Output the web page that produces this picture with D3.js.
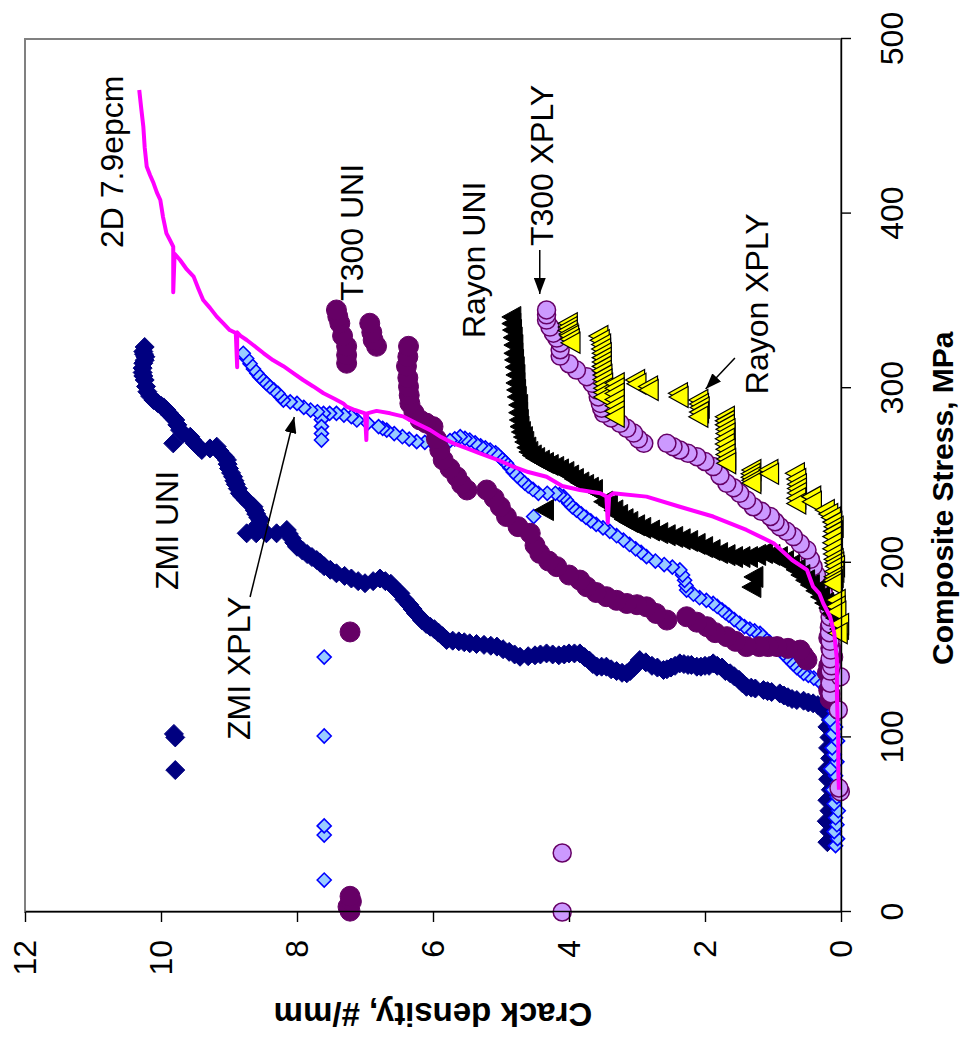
<!DOCTYPE html>
<html>
<head>
<meta charset="utf-8">
<script src="https://cdn.jsdelivr.net/npm/d3@7"></script>
<style>
  html, body { margin: 0; padding: 0; background: #fff; }
  svg { display: block; }
</style>
</head>
<body>
<svg id="chart" width="961" height="1040"></svg>
<script>
// Crack density vs composite stress, one array per material.
// Each entry is [stress MPa, crack density #/mm].
const stressTicks = [0, 100, 200, 300, 400, 500];
const crackTicks = [0, 2, 4, 6, 8, 10, 12];

const zmiUni = [
  [40,0.2],[46,0.17],[52,0.21],[58,0.17],[64,0.2],[70,0.15],[76,0.19],[82,0.2],[88,0.16],[94,0.19],
  [100,0.17],[106,0.2],[110,0.15],[114,0.22],[117,0.26],
  [118.5,0.34],[119.5,0.41],[120,0.48],[121,0.55],[121.4,0.65],[122,0.72],[123,0.78],[124,0.84],[125.2,0.9],
  [126,1.02],[126.5,1.08],[127.1,1.14],[128,1.26],[128.5,1.32],[129,1.39],[131,1.45],[133,1.5],[135,1.57],
  [136.7,1.63],[138,1.7],[140,1.75],[141,1.82],[142.4,1.88],[141,1.94],[141,2.0],[140.5,2.06],[140.5,2.12],
  [141.5,2.2],[141.5,2.25],[142,2.31],[142.4,2.37],[141,2.44],[140,2.5],[139,2.56],[138.6,2.61],[140,2.7],
  [141,2.78],[143,2.87],[144.3,2.96],[142,3.0],[140,3.05],[138,3.1],[136.7,3.15],[137,3.22],[138,3.3],
  [139,3.38],[140.5,3.45],[140.5,3.52],[140.5,3.59],[142,3.65],[144,3.7],[146,3.77],[148.1,3.84],
  [148.1,3.92],[148.1,4.0],[147.5,4.07],[147,4.15],[147.5,4.24],[148.1,4.33],[147.5,4.42],[147,4.5],
  [146.5,4.6],[146.2,4.72],[147.5,4.8],[149,4.88],[150.5,4.97],[152,5.06],[152.5,5.15],[153,5.25],
  [153.5,5.36],[153.9,5.46],[154.5,5.54],[155,5.62],[155.4,5.71],[155.8,5.8],[158,5.86],[160,5.92],
  [162,5.98],[163.4,6.04],[165,6.1],[167,6.16],[169,6.2],[171,6.25],[173.5,6.3],[176,6.35],[179,6.42],
  [182.5,6.48],[185,6.55],[188,6.62],[189.5,6.7],[191,6.78],[189.5,6.88],[188.3,7.0],[189.5,7.1],[191,7.2],
  [192.5,7.3],[194,7.42],[196,7.51],[198,7.6],[200,7.66],[201.6,7.71],[203.3,7.78],[205,7.85],[207,7.92],
  [209.2,8.0],[211.5,8.04],[214,8.08],[216.5,8.12],[218.8,8.15],[216.9,8.3],[216.9,8.45],[216.9,8.6],
  [216.9,8.74],[220,8.6],[222,8.57],[224.5,8.54],[226,8.57],[228,8.6],[230,8.62],[232.1,8.64],[234,8.7],
  [236,8.75],[238,8.8],[239.8,8.84],[242.5,8.87],[245,8.9],[247,8.92],[249.3,8.94],[251.5,8.97],[254,9.0],
  [256.5,9.02],[258.9,9.03],[260.5,9.06],[262,9.1],[264,9.14],[266.5,9.18],[265.5,9.28],[264.6,9.4],
  [266.5,9.45],[268.4,9.5],[270.3,9.54],[272.2,9.57],[268.4,9.82],[274,9.68],[276,9.72],[279,9.76],
  [281.8,9.79],[283,9.82],[284.5,9.86],[286,9.89],[287.5,9.92],[289,9.96],[290,10.0],[291.5,10.05],
  [293.2,10.11],[295.5,10.16],[298,10.2],[301,10.22],[304.7,10.24],[307,10.26],[309,10.27],[311.5,10.27],
  [314.3,10.26],[316,10.24],[318,10.23],[319.5,10.25],[321,10.26],[323.6,10.24],
  [81.3,9.79],[100,9.79],[102,9.81]
];

const zmiXply = [
  [18.3,7.6],[44.1,7.6],[49.3,7.6],[100.8,7.6],[146,7.6],
  [38,0.08],[42,0.05],[46,0.1],[50,0.06],[54,0.08],[58,0.04],[62,0.1],[66,0.06],[70,0.12],[74,0.05],
  [78,0.08],[82,0.15],[86,0.06],[90,0.1],[94,0.13],[98,0.05],[102,0.12],[106,0.08],[110,0.16],[115,0.1],
  [120,0.14],[125,0.18],[128,0.22],[130.9,0.26],[132.5,0.33],
  [134,0.4],[135.5,0.48],[136.7,0.55],[138.6,0.6],[140,0.65],[142,0.7],[144,0.75],[146,0.8],[148,0.85],
  [150,0.9],[151.5,0.95],[153,1.0],[154.5,1.05],[156,1.1],[158,1.15],[159.6,1.19],[161,1.27],[162,1.34],
  [163.5,1.42],[165.3,1.49],[167.5,1.57],[170,1.65],[171.5,1.7],[173,1.75],[175,1.82],[176.7,1.88],
  [178.5,1.98],[180,2.08],[182,2.17],[184.4,2.27],[187,2.28],[190,2.3],[193,2.33],[195.9,2.37],[197.5,2.48],
  [199,2.6],[201,2.73],[203.5,2.86],[206,2.94],[208,3.02],[210.5,3.11],[213,3.2],[215.5,3.3],[218,3.4],
  [220,3.5],[222,3.6],[224,3.68],[226,3.75],[228,3.82],[230.2,3.89],[232,3.95],[234,4.0],[236,4.04],
  [237.9,4.08],[239,4.14],[239.8,4.2],[239.8,4.32],[239.8,4.45],[226.5,4.52],[242,4.53],[244,4.6],
  [245.7,4.65],[247.4,4.7],[249.7,4.76],[252,4.82],[254.5,4.87],[257,4.92],[258.5,4.96],[260,5.0],
  [261.5,5.04],[263,5.08],[264.6,5.16],[265.8,5.23],[267,5.3],[268.7,5.38],[270.3,5.46],[271.3,5.53],
  [272.2,5.6],[271,5.68],[270,5.75],[269.2,5.88],[268.4,6.0],[269,6.12],[269.4,6.24],[270.8,6.35],
  [272.2,6.45],[274,6.57],[276,6.68],[277,6.74],[278,6.8],[280,6.96],[281.8,7.12],[283.7,7.2],[284.6,7.31],
  [285.6,7.42],[285.6,7.52],[285.6,7.61],[282,7.64],[278,7.64],[274,7.64],[270.3,7.64],[286.5,7.7],
  [287.5,7.8],[289,7.9],[291.3,8.0],[292.2,8.1],[293.2,8.2],[295,8.24],[297,8.28],[299,8.34],[300.9,8.4],
  [302.8,8.45],[304.7,8.5],[306.6,8.55],[308.5,8.59],[311,8.64],[314,8.69],[317,8.74],[320,8.79]
];

const t300Uni = [
  [0.5,7.22],[3,7.25],[6,7.2],[9,7.22],[160.4,7.22],
  [122,0.16],[127,0.18],[132,0.15],[137,0.2],[141,0.18],[146,0.12],[151,0.15],[157,0.18],[163,0.16],
  [144.3,0.5],[147,0.55],[150,0.6],[151,0.78],[152,0.94],[152,1.07],[152,1.2],[152,1.39],
  [155,1.55],[157.7,1.68],[160,1.85],[163.4,1.97],[166,2.12],[169.1,2.27],[167.2,2.56],[171,2.72],
  [174.8,2.86],[176,3.0],[176.7,3.15],[178.5,3.3],[180.6,3.45],[183,3.6],[186.3,3.74],[190.1,3.84],
  [193,4.0],[197.8,4.18],[201,4.3],[205.4,4.43],[210,4.5],[216.9,4.57],[220.7,4.75],[226.5,4.92],
  [232.1,5.01],[237,5.1],[241.7,5.21],[241.7,5.5],[245,5.58],[249.3,5.65],[254,5.75],[258.9,5.85],
  [264.6,5.9],[271,5.95],[278,6.0],[280,6.1],[281.8,6.19],[286,6.28],[291.3,6.34],[296,6.35],[300.9,6.36],
  [306,6.37],[312.6,6.39],[318,6.37],[324,6.36],
  [324,6.83],[327.6,6.88],[332,6.9],[337.2,6.93],
  [314.3,7.27],[319,7.27],[324,7.27],[330,7.33],[337.2,7.37],[341,7.4],[344.8,7.42]
];

const t300Xply = [
  [0,4.1],[33.8,4.1],
  [68.9,0.01],[71,0.03],[115.7,0.04],[125,0.15],[131,0.16],[134.8,0.01],[138,0.16],[141,0.14],[145,0.16],
  [150,0.15],[155,0.16],[160,0.17],[165,0.16],[169,0.16],[174,0.18],[178.7,0.21],[183,0.26],[188.3,0.31],
  [193,0.36],[197.8,0.41],[202,0.45],[207.3,0.5],[211,0.6],[215,0.7],[218,0.8],[220.7,0.9],[223.5,0.97],
  [226.5,1.04],[229.5,1.17],[232.1,1.29],[236,1.39],[239.8,1.49],[243,1.58],[245.5,1.68],[250,1.78],
  [255.1,1.88],[258,2.0],[260.8,2.12],[262.7,2.25],[264.6,2.37],[266.5,2.47],[268.4,2.56],
  [268.4,2.9],[271,2.98],[274.3,3.05],[277,3.15],[279.9,3.25],[283,3.38],[285.6,3.49],[288.5,3.52],
  [291.3,3.54],[295,3.57],[299,3.59],[302.8,3.66],[306.6,3.74],[310.4,3.89],[314,4.0],[318.4,4.13],
  [322,4.13],[325.9,4.13],[328.7,4.18],[331.5,4.23],[335,4.28],[339,4.33],[342,4.33],[344.8,4.33]
];

const rayonUni = [
  [340.8,4.82],[337,4.82],[333.3,4.81],[329,4.8],[324.7,4.79],[320,4.79],[316.2,4.78],[312,4.77],
  [307.6,4.76],[303,4.76],[299,4.75],[295,4.74],[290.4,4.72],[286,4.72],[281.8,4.71],[278,4.7],
  [274.9,4.68],[272,4.65],[269.2,4.63],[266,4.6],[263.5,4.57],[261.5,4.52],[260,4.47],[258.5,4.4],
  [257.2,4.34],[256,4.27],[254.9,4.19],[253.5,4.12],[252,4.04],[250,3.97],[248,3.9],[246,3.82],
  [244.6,3.75],[243,3.68],[241.7,3.62],[230.2,4.34],
  [235,3.47],[233.1,3.4],[230,3.32],[227.4,3.25],[225,3.17],[223.4,3.1],[221.5,3.0],[220,2.91],
  [218.5,2.78],[217,2.66],[215.8,2.55],[214.8,2.44],[213.5,2.33],[212.5,2.22],[210.8,2.11],[209,2.0],
  [207.3,1.89],[205.6,1.78],[204.4,1.67],[203.3,1.56],[203.3,1.45],[203.3,1.34],[191.9,1.26],[186.1,1.29],
  [204.5,1.22],[205.6,1.12],[204.5,1.01],[203.3,0.9],[201,0.81],[198.7,0.72],[196,0.64],[193,0.57],
  [190,0.5],[187.3,0.43],[184,0.35],[180.4,0.28],[177,0.22],[174.1,0.16],[171,0.11],[168.4,0.06],[162,0.0]
];

const rayonXply = [
  [337.2,3.99],[335,3.99],[333,3.99],[331,3.98],[330,3.97],[328,3.96],[326,3.95],
  [329.9,3.54],[327.5,3.52],[325,3.5],[322.5,3.5],[320,3.49],[317.5,3.49],[315,3.49],[312.5,3.49],
  [310,3.49],[307.5,3.48],[305,3.48],[302.5,3.47],[300,3.47],[297.5,3.47],[295,3.47],
  [302.8,3.3],[300,3.3],[297,3.3],[293.5,3.3],[290,3.3],[286.8,3.3],[283.7,3.3],
  [304.7,3.0],[302.5,2.98],[301,2.81],[299,2.8],[297.1,2.37],[295,2.36],
  [293.2,2.07],[291,2.06],[289,2.05],[286.3,2.06],[283.7,2.07],
  [283.7,1.68],[281.3,1.68],[279,1.68],[276.5,1.67],[274,1.67],[271,1.68],[268,1.68],[265,1.67],
  [262,1.67],[259.5,1.66],[257,1.66],[253.2,1.29],[251,1.3],[249,1.3],[247.3,1.29],[245.7,1.29],
  [253.2,1.04],[251,1.03],[251.3,0.65],[248,0.63],[245,0.62],[242.5,0.62],[240,0.62],[237,0.63],[234,0.63],
  [237.9,0.41],[235,0.4],[230.2,0.21],[228,0.16],[226,0.12],[223.3,0.1],[220.7,0.08],[218,0.09],[215,0.1],
  [211.5,0.1],[208,0.1],[205,0.09],[202,0.08],[200,0.07],[198,0.06],[195,0.07],[192,0.08],[190,0.09],
  [188,0.1],[178.7,0.05],[175,0.05],[172,0.04],[165,0.0],[159.6,0.02]
];

const woven2D = [
  [70,0.03],[80,0.04],[96.8,0.04],[110,0.05],[125,0.06],[144.3,0.06],[160,0.1],[169.1,0.16],[176.7,0.26],
  [182.5,0.32],[186.3,0.41],[195.9,0.5],[201.6,0.72],[211.2,0.99],[218.8,1.39],[226.5,1.88],[232.1,2.37],
  [237.9,2.86],[239.8,3.35],[238,3.41],[223,3.43],[238,3.45],[239.8,3.54],[241.7,3.84],[244,4.1],
  [249.3,4.33],[252,4.6],[255.1,4.82],[259,5.05],[262.7,5.31],[265.5,5.5],[268.4,5.7],[272,5.88],
  [276,6.04],[280,6.25],[283.7,6.43],[285.6,6.63],[287,6.83],[285.6,6.97],[270.3,6.98],[285.6,7.0],
  [287.5,7.15],[289.4,7.27],[291.3,7.32],[294,7.45],[297.1,7.61],[301,7.76],[304.7,7.91],[308.5,8.05],
  [312.6,8.2],[316,8.35],[320,8.49],[324,8.62],[327.6,8.74],[330,8.83],[332,8.88],[312,8.88],[331.6,8.9],
  [333.3,8.99],[337,9.08],[341,9.18],[346,9.28],[350.5,9.38],[357,9.45],[363.9,9.52],[368,9.62],
  [373.4,9.72],[377,9.8],[355,9.82],[381.1,9.82],[385,9.87],[388.7,9.92],[398,9.97],[407.8,10.01],
  [412,10.06],[417.5,10.11],[422,10.16],[427,10.21],[438,10.24],[449.9,10.26],[460,10.29],[470.8,10.32]
];

// Series labels placed in the plot, anchored at [stress, crack]
const labels = [
  { text: "2D 7.9epcm", at: [380.3, 10.56] },
  { text: "T300 UNI",   at: [350.0, 7.03] },
  { text: "Rayon UNI",  at: [328.7, 5.24] },
  { text: "T300 XPLY",  at: [381.4, 4.24] },
  { text: "Rayon XPLY", at: [296.6, 1.07] },
  { text: "ZMI UNI",    at: [184.4, 9.75] },
  { text: "ZMI XPLY",   at: [98.5, 8.69] }
];
const pointers = [
  { from: [180.4, 8.69], to: [283.5, 8.04] },
  { from: [379.2, 4.43], to: [354.0, 4.43] },
  { from: [317.3, 1.56], to: [299.5, 1.99] }
];

const FONT = "'Liberation Sans', Arial, Helvetica, sans-serif";
const W = 873, H = 816;

const svg = d3.select("#chart");
svg.append("rect").attr("width", 961).attr("height", 1040).attr("fill", "#fff");

// The plot is built in landscape orientation and turned a quarter turn
// counter-clockwise, so stress runs upward and crack density runs leftward.
const g = svg.append("g").attr("transform", "translate(25,912) rotate(-90)");

const x = d3.scaleLinear().domain([0, 500]).range([0, W]);
const y = d3.scaleLinear().domain([0, 12]).range([H, 0]);

const defs = svg.append("defs");
defs.append("marker")
  .attr("id", "head")
  .attr("viewBox", "0 0 16 12")
  .attr("refX", 16).attr("refY", 6)
  .attr("markerWidth", 16).attr("markerHeight", 12)
  .attr("markerUnits", "userSpaceOnUse")
  .attr("orient", "auto")
  .append("path").attr("d", "M0,0L16,6L0,12Z").attr("fill", "#000");

// plot area frame
g.append("rect")
  .attr("width", W).attr("height", H)
  .attr("fill", "none").attr("stroke", "#808080").attr("stroke-width", 2);

// marker shapes
const diamond = h => `M0,${-h}L${h},0L0,${h}L${-h},0Z`;
const triangle = (b, h) => `M0,${-h * 0.6}L${b / 2},${h * 0.4}L${-b / 2},${h * 0.4}Z`;

function scatter(data, style) {
  const grp = g.append("g");
  const tag = style.circle ? "circle" : "path";
  const sel = grp.selectAll(tag).data(data).join(tag);
  if (style.circle) {
    sel.attr("cx", d => x(d[0])).attr("cy", d => y(d[1])).attr("r", style.r);
  } else {
    sel.attr("transform", d => `translate(${x(d[0])},${y(d[1])})`).attr("d", style.path);
  }
  sel.attr("fill", style.fill)
    .attr("stroke", style.stroke || "none")
    .attr("stroke-width", style.strokeWidth || 0);
}

scatter(zmiUni,   { path: diamond(9.5), fill: "#000080", stroke: "#000080", strokeWidth: 1 });
scatter(zmiXply,  { path: diamond(7), fill: "#99CCFF", stroke: "#0000FF", strokeWidth: 1.6 });
scatter(t300Uni,  { circle: true, r: 10, fill: "#660066", stroke: "#660066", strokeWidth: 1 });
scatter(t300Xply, { circle: true, r: 9, fill: "#CC99FF", stroke: "#660066", strokeWidth: 1.5 });
scatter(rayonUni, { path: triangle(21, 19), fill: "#000000", stroke: "#000000", strokeWidth: 1 });
scatter(rayonXply,{ path: triangle(21, 19), fill: "#FFFF00", stroke: "#000000", strokeWidth: 1.2 });

g.append("path")
  .datum(woven2D)
  .attr("fill", "none")
  .attr("stroke", "#FF00FF")
  .attr("stroke-width", 4)
  .attr("stroke-linejoin", "round")
  .attr("d", d3.line().x(d => x(d[0])).y(d => y(d[1])));

// axes
const xAxis = g.append("g").attr("transform", `translate(0,${H})`)
  .call(d3.axisBottom(x).tickValues(stressTicks).tickSize(10).tickSizeOuter(0).tickPadding(29));
const yAxis = g.append("g")
  .call(d3.axisLeft(y).tickValues(crackTicks).tickSize(10).tickSizeOuter(0).tickPadding(18));
[xAxis, yAxis].forEach(a => {
  a.selectAll("path, line").attr("stroke", "#000").attr("stroke-width", 1.4);
  a.selectAll("text").attr("fill", "#000").style("font-family", FONT).style("font-size", "32px");
});

// axis titles
g.append("text")
  .attr("x", x(237)).attr("y", H + 112)
  .attr("text-anchor", "middle")
  .style("font-family", FONT).style("font-size", "30px").style("font-weight", "bold")
  .text("Composite Stress, MPa");
g.append("text")
  .attr("transform", `translate(-91,${y(6)}) rotate(-90)`)
  .attr("text-anchor", "middle")
  .style("font-family", FONT).style("font-size", "33px").style("font-weight", "bold")
  .text("Crack density, #/mm");

// series labels and pointers
g.append("g").selectAll("text").data(labels).join("text")
  .attr("x", d => x(d.at[0])).attr("y", d => y(d.at[1]))
  .style("font-family", FONT).style("font-size", "32px").attr("fill", "#000")
  .text(d => d.text);
g.append("g").selectAll("line").data(pointers).join("line")
  .attr("x1", d => x(d.from[0])).attr("y1", d => y(d.from[1]))
  .attr("x2", d => x(d.to[0])).attr("y2", d => y(d.to[1]))
  .attr("stroke", "#000").attr("stroke-width", 1.5)
  .attr("marker-end", "url(#head)");
</script>
</body>
</html>
